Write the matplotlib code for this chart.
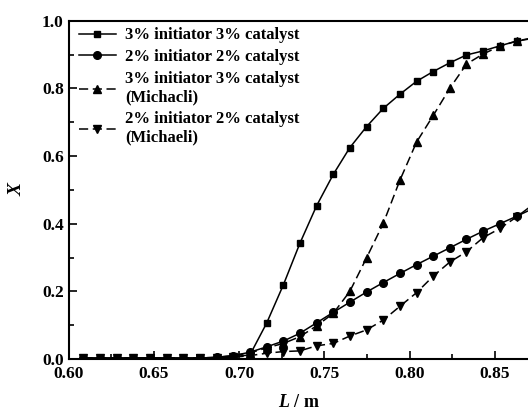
import matplotlib
matplotlib.use("Agg")
import matplotlib.pyplot as plt
from matplotlib.ticker import MultipleLocator

L = [0.6086, 0.6184, 0.6281, 0.6379, 0.6477, 0.6575, 0.6672, 0.6770, 0.6868, 0.6965,
     0.7063, 0.7161, 0.7259, 0.7356, 0.7454, 0.7552, 0.7649, 0.7747, 0.7845, 0.7943,
     0.8040, 0.8138, 0.8236, 0.8333, 0.8431, 0.8529, 0.8627, 0.8724]

x_3_3 = [0.003, 0.003, 0.003, 0.003, 0.003, 0.003, 0.003, 0.003, 0.004, 0.007,
         0.012, 0.106, 0.219, 0.342, 0.453, 0.546, 0.625, 0.687, 0.741, 0.783,
         0.821, 0.850, 0.876, 0.899, 0.911, 0.926, 0.940, 0.948]
x_2_2 = [0.003, 0.003, 0.003, 0.003, 0.003, 0.003, 0.003, 0.003, 0.005, 0.010,
         0.020, 0.036, 0.053, 0.076, 0.107, 0.138, 0.168, 0.198, 0.226, 0.253,
         0.279, 0.304, 0.329, 0.354, 0.378, 0.400, 0.422, 0.445]
x_3_3_m = [0.003, 0.003, 0.003, 0.003, 0.003, 0.003, 0.003, 0.003, 0.005, 0.010,
           0.018, 0.033, 0.046, 0.066, 0.098, 0.135, 0.200, 0.299, 0.401, 0.529,
           0.641, 0.720, 0.801, 0.872, 0.902, 0.925, 0.940, 0.950]
x_2_2_m = [0.003, 0.003, 0.003, 0.003, 0.003, 0.003, 0.003, 0.003, 0.003, 0.005,
           0.010, 0.017, 0.022, 0.024, 0.039, 0.046, 0.068, 0.086, 0.115, 0.156,
           0.196, 0.245, 0.287, 0.317, 0.359, 0.386, 0.420, 0.457]

labels = ["3% initiator 3% catalyst",
          "2% initiator 2% catalyst",
          "3% initiator 3% catalyst\n(Michacli)",
          "2% initiator 2% catalyst\n(Michaeli)"]

plt.rcParams['font.family'] = ['Liberation Serif', 'DejaVu Serif']
plt.rcParams['font.weight'] = 'bold'
plt.rcParams['mathtext.fontset'] = 'custom'
plt.rcParams['mathtext.it'] = 'Liberation Serif:italic:bold'
plt.rcParams['mathtext.rm'] = 'Liberation Serif:bold'

fig = plt.figure(figsize=(5.28, 4.16), dpi=100)
ax = fig.add_axes([0.130, 0.137, 0.872, 0.813])

dash = (6, 3)
ax.plot(L, x_3_3, '-', color='black', lw=1.1, marker='s', ms=5, label=labels[0])
ax.plot(L, x_2_2, '-', color='black', lw=1.1, marker='o', ms=5.5, label=labels[1])
ax.plot(L, x_3_3_m, '--', dashes=dash, color='black', lw=1.1, marker='^', ms=6, label=labels[2])
ax.plot(L, x_2_2_m, '--', dashes=dash, color='black', lw=1.1, marker='v', ms=6, label=labels[3])

ax.set_xlim(0.60, 0.87)
ax.set_ylim(0.0, 1.0)
ax.xaxis.set_major_locator(MultipleLocator(0.05))
ax.xaxis.set_minor_locator(MultipleLocator(0.025))
ax.yaxis.set_major_locator(MultipleLocator(0.2))
ax.yaxis.set_minor_locator(MultipleLocator(0.1))
ax.tick_params(which='both', direction='in', labelsize=12.5, width=1.2)
ax.tick_params(which='major', length=6)
ax.tick_params(which='minor', length=3.5)
ax.tick_params(axis='x', pad=5)
ax.set_xticks([0.60, 0.65, 0.70, 0.75, 0.80, 0.85])
ax.set_xticklabels(["0.60", "0.65", "0.70", "0.75", "0.80", "0.85"])
ax.set_yticks([0.0, 0.2, 0.4, 0.6, 0.8, 1.0])
ax.set_yticklabels(["0.0", "0.2", "0.4", "0.6", "0.8", "1.0"])
for s in ax.spines.values():
    s.set_linewidth(1.5)

ax.set_xlabel(r"$L$ / m", fontsize=13, fontweight='bold', labelpad=9)
ax.set_ylabel("X", fontsize=14, fontweight='bold', fontstyle='italic', labelpad=12)

leg = ax.legend(loc='upper left', bbox_to_anchor=(0.012, 0.995), frameon=False,
                handlelength=2.2, handletextpad=0.55, labelspacing=0.35,
                borderaxespad=0.0, borderpad=0.3, prop={'weight': 'bold', 'size': 12})

fig.savefig("out.png", dpi=100)
